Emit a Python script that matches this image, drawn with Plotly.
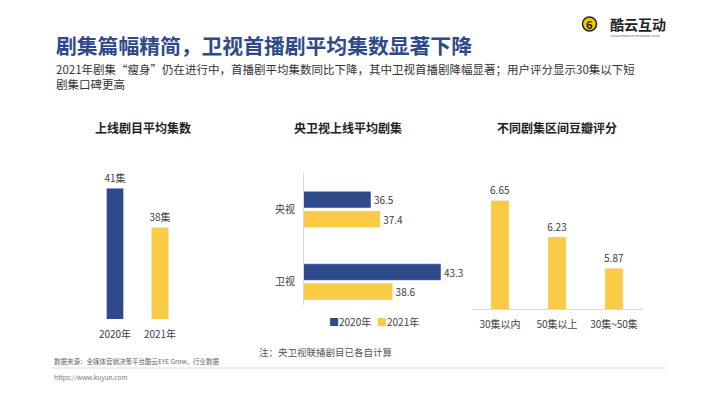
import plotly.graph_objects as go

W, H = 710, 399

# ---------------- data ----------------
c1_years = ["2020年", "2021年"]
c1_values = [41, 38]
c1_labels = ["41集", "38集"]

c2_categories = ["央视", "卫视"]
c2_2020 = [36.5, 43.3]
c2_2021 = [37.4, 38.6]
c2_series = ["2020年", "2021年"]

c3_categories = ["30集以内", "50集以上", "30集~50集"]
c3_values = [6.65, 6.23, 5.87]

BLUE = "#2E4A8B"
YELLOW = "#FBCB45"
FONT = "Noto Sans CJK SC"
TXT = "#404040"


def px_x(x):
    return x / W


def px_y(y):
    return (H - y) / H


fig = go.Figure()

# chart 1
fig.add_trace(go.Bar(
    x=c1_years, y=c1_values, marker_color=[BLUE, YELLOW], width=0.38,
    text=c1_labels, textposition="outside", cliponaxis=False,
    constraintext="none",
    textfont=dict(size=10, color=TXT), showlegend=False,
    xaxis="x", yaxis="y", hoverinfo="skip"))

# chart 2
fig.add_trace(go.Bar(
    y=c2_categories, x=c2_2020, orientation="h", name=c2_series[0],
    marker_color=BLUE, text=[f"{v}" for v in c2_2020], textposition="outside",
    cliponaxis=False, constraintext="none", textfont=dict(size=10, color=TXT),
    showlegend=False, xaxis="x2", yaxis="y2", hoverinfo="skip"))
fig.add_trace(go.Bar(
    y=c2_categories, x=c2_2021, orientation="h", name=c2_series[1],
    marker_color=YELLOW, text=[f"{v}" for v in c2_2021], textposition="outside",
    cliponaxis=False, constraintext="none", textfont=dict(size=10, color=TXT),
    showlegend=False, xaxis="x2", yaxis="y2", hoverinfo="skip"))

# chart 3
fig.add_trace(go.Bar(
    x=c3_categories, y=c3_values, marker_color=YELLOW, width=0.32,
    text=[f"{v:.2f}" for v in c3_values], textposition="outside",
    cliponaxis=False, constraintext="none",
    textfont=dict(size=10, color=TXT), showlegend=False,
    xaxis="x3", yaxis="y3", hoverinfo="skip"))

tickfont = dict(size=10, color=TXT, family=FONT)

fig.update_layout(
    width=W, height=H, margin=dict(l=0, r=0, t=0, b=0),
    paper_bgcolor="white", plot_bgcolor="white",
    font=dict(family=FONT, color=TXT),
    barmode="group", bargap=0.46, bargroupgap=0.15,
    showlegend=False,
    xaxis=dict(domain=[px_x(92.5), px_x(182.5)], anchor="y", showgrid=False,
               showline=False, ticks="", tickfont=tickfont, ticklabelstandoff=8,
               range=[-0.5, 1.5]),
    yaxis=dict(domain=[px_y(319), px_y(162)], anchor="x", range=[31, 43],
               visible=False),
    xaxis2=dict(domain=[px_x(304), px_x(458.5)], anchor="y2", range=[30, 45],
                visible=False),
    yaxis2=dict(domain=[px_y(305), px_y(173.25)], anchor="x2",
                range=[1.32, -0.5], showgrid=False, showline=True,
                linecolor="#D9D9D9", linewidth=1, ticks="", tickfont=tickfont,
                ticklabelstandoff=6),
    xaxis3=dict(domain=[px_x(471.5), px_x(642.5)], anchor="y3",
                range=[-0.5, 2.5], showgrid=False, showline=True,
                linecolor="#D9D9D9", linewidth=1, ticks="", tickfont=tickfont,
                ticklabelstandoff=6),
    yaxis3=dict(domain=[px_y(309), px_y(170)], anchor="x3", range=[5.4, 7.0],
                visible=False),
)

ann = []
# main title
ann.append(dict(x=px_x(54), y=px_y(45), xref="paper", yref="paper",
                xanchor="left", yanchor="middle", showarrow=False,
                text="<b>剧集篇幅精简，卫视首播剧平均集数显著下降</b>",
                font=dict(size=20.8, color=BLUE, family=FONT)))
ann.append(dict(x=px_x(54), y=px_y(76), xref="paper", yref="paper",
                xanchor="left", yanchor="middle", showarrow=False, align="left",
                text="2021年剧集“瘦身”仍在进行中，首播剧平均集数同比下降，其中卫视首播剧降幅显著；用户评分显示30集以下短<br>剧集口碑更高",
                font=dict(size=11.5, color="#333333", family=FONT)))
# chart titles
for cx, t in [(143, "上线剧目平均集数"), (348, "央卫视上线平均剧集"),
              (557, "不同剧集区间豆瓣评分")]:
    ann.append(dict(x=px_x(cx), y=px_y(127), xref="paper", yref="paper",
                    xanchor="center", yanchor="middle", showarrow=False,
                    text=f"<b>{t}</b>", font=dict(size=12, color="#222222",
                                                  family=FONT)))
# legend for chart 2 (built from series names)
legend_x = [327, 375]
for lx, name, col in zip(legend_x, c2_series, [BLUE, YELLOW]):
    ann.append(dict(x=px_x(lx), y=px_y(321), xref="paper", yref="paper",
                    xanchor="left", yanchor="middle", showarrow=False,
                    text=f"<span style='color:{col}'>■</span>{name}",
                    font=dict(size=10, color=TXT, family=FONT)))
# note
ann.append(dict(x=px_x(257), y=px_y(352), xref="paper", yref="paper",
                xanchor="left", yanchor="middle", showarrow=False,
                text="注：央卫视联播剧目已各自计算",
                font=dict(size=9.5, color="#555555", family=FONT)))
# footer
ann.append(dict(x=px_x(52), y=px_y(361), xref="paper", yref="paper",
                xanchor="left", yanchor="middle", showarrow=False,
                text="数据来源：全媒体营销决策平台酷云EYE Grow，行业数据",
                font=dict(size=6.5, color="#666666", family=FONT)))
ann.append(dict(x=px_x(52), y=px_y(377), xref="paper", yref="paper",
                xanchor="left", yanchor="middle", showarrow=False,
                text="https://www.kuyun.com",
                font=dict(size=6.5, color="#777777", family=FONT)))
# logo text
ann.append(dict(x=px_x(608), y=px_y(24), xref="paper", yref="paper",
                xanchor="left", yanchor="middle", showarrow=False,
                text="<b>酷云互动</b>",
                font=dict(size=14, color="#222222", family=FONT)))
ann.append(dict(x=px_x(609), y=px_y(36.5), xref="paper", yref="paper",
                xanchor="left", yanchor="middle", showarrow=False,
                text="KUYUN INTERACTIVE TECHNOLOGY LIMITED",
                font=dict(size=2.4, color="#555555", family=FONT)))
ann.append(dict(x=px_x(589.5), y=px_y(24), xref="paper", yref="paper",
                xanchor="center", yanchor="middle", showarrow=False,
                text="<b>6</b>",
                font=dict(size=11, color="#222222", family=FONT)))
fig.update_layout(annotations=ann)

shapes = [
    dict(type="line", xref="paper", yref="paper", x0=px_x(52), x1=px_x(665),
         y0=px_y(368), y1=px_y(368), line=dict(color="#DDDDDD", width=1)),
    dict(type="circle", xref="paper", yref="paper", x0=px_x(582.5), x1=px_x(596.5),
         y0=px_y(31), y1=px_y(17), fillcolor="#F7C600",
         line=dict(color="#222222", width=1.5), layer="below"),
]
fig.update_layout(shapes=shapes)

fig.write_html("out.html", config={"displayModeBar": False})

# remove default page margin so the figure sits at the window origin
with open("out.html", "r", encoding="utf-8") as f:
    html = f.read()
html = html.replace("<head>", "<head><style>html,body{margin:0;padding:0;overflow:hidden;}</style>", 1)
with open("out.html", "w", encoding="utf-8") as f:
    f.write(html)
